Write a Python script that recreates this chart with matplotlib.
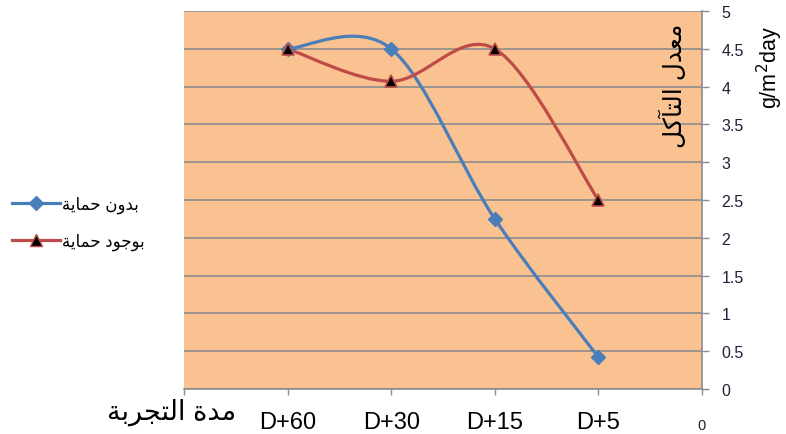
import numpy as np
import matplotlib.pyplot as plt
from matplotlib.path import Path
from matplotlib.patches import PathPatch
from matplotlib.lines import Line2D

plt.rcParams['font.family'] = ['Liberation Sans', 'DejaVu Sans']

# Arabic strings in visual order (presentation forms, right-to-left already applied)
no_protect = '\uFE94\uFEF3\uFE8E\uFEE4\uFEA3 \uFEE5\uFEED\uFEAA\uFE91'        # بدون حماية
with_protect = '\uFE94\uFEF3\uFE8E\uFEE4\uFEA3 \uFEA9\uFEEE\uFE9F\uFEEE\uFE91'  # بوجود حماية
x_title = '\uFE94\uFE91\uFEAE\uFEA0\uFE98\uFEDF\uFE8D \uFE93\uFEAA\uFEE3'      # مدة التجربة
y_title = '\uFEDE\uFEDB\uFE82\uFE98\uFEDF\uFE8D \uFEDD\uFEAA\uFECC\uFEE3'      # معدل التآكل

periods = ['D+60', 'D+30', 'D+15', 'D+5']
x_pos = [1, 2, 3, 4]
rate_without = [4.5, 4.5, 2.25, 0.42]
rate_with = [4.5, 4.07, 4.5, 2.5]

blue = '#4A7EBB'
red = '#BE4B48'


def smooth_path(x, y):
    # excel style smoothed line: cubic bezier with catmull-rom tangents
    pts = np.column_stack([x, y]).astype(float)
    n = len(pts)
    verts = [pts[0]]
    codes = [Path.MOVETO]
    for i in range(n - 1):
        p0 = pts[i - 1] if i > 0 else pts[i]
        p1 = pts[i]
        p2 = pts[i + 1]
        p3 = pts[i + 2] if i + 2 < n else pts[i + 1]
        c1 = p1 + (p2 - p0) / 6.
        c2 = p2 - (p3 - p1) / 6.
        verts += [c1, c2, p2]
        codes += [Path.CURVE4] * 3
    return Path(verts, codes)


fig = plt.figure(figsize=(7.86, 4.35), dpi=100)
ax = fig.add_axes([184 / 786, 1 - 390 / 435, 518 / 786, 378 / 435])
ax.set_facecolor('#FAC291')
ax.set_xlim(0, 5)
ax.set_ylim(0, 5)

ax.set_yticks(np.arange(0, 5.01, 0.5))
ax.set_yticklabels(['0', '0.5', '1', '1.5', '2', '2.5', '3', '3.5', '4', '4.5', '5'])
ax.yaxis.tick_right()
ax.grid(axis='y', color='#8C8C8C', linewidth=1.2)
ax.set_axisbelow(True)
ax.tick_params(axis='y', direction='out', length=5, width=1, color='#8C8C8C',
               labelsize=11.5, labelcolor='#202038', pad=9)

ax.set_xticks([0, 1, 2, 3, 4, 5])
ax.set_xticklabels([''] + periods + [''])
ax.tick_params(axis='x', direction='out', length=4, width=1, color='#8C8C8C',
               labelsize=17, pad=12)
ax.text(5, -0.47, '0', ha='center', va='center', fontsize=10.5, color='#202038')

for side in ['left', 'top']:
    ax.spines[side].set_visible(False)
ax.spines['bottom'].set_color('#8C8C8C')
ax.spines['right'].set_color('#8C8C8C')
ax.spines['bottom'].set_linewidth(1.2)
ax.spines['right'].set_linewidth(1.2)

ax.add_patch(PathPatch(smooth_path(x_pos, rate_without), fill=False,
                       edgecolor=blue, linewidth=2.3, capstyle='round', zorder=3))
ax.add_patch(PathPatch(smooth_path(x_pos, rate_with), fill=False,
                       edgecolor=red, linewidth=2.3, capstyle='round', zorder=3))
ax.plot(x_pos, rate_without, linestyle='none', marker='D', markersize=7,
        color=blue, zorder=4, clip_on=False)
ax.plot(x_pos, rate_with, linestyle='none', marker='^', markersize=9,
        markerfacecolor='black', markeredgecolor=red, markeredgewidth=1.2,
        zorder=5, clip_on=False)

fig.text(236 / 786, 1 - 412 / 435, x_title, ha='right', va='center', fontsize=19.5)
fig.text(673 / 786, 1 - 86 / 435, y_title, ha='center', va='center',
         rotation=90, fontsize=18)
fig.text(770 / 786, 1 - 68 / 435, 'g/m$^2$day', ha='center', va='center',
         rotation=90, fontsize=15.5)

handles = [
    Line2D([], [], color=blue, linewidth=2.3, marker='D', markersize=7),
    Line2D([], [], color=red, linewidth=2.3, marker='^', markersize=9,
           markerfacecolor='black', markeredgecolor=red),
]
fig.legend(handles, [no_protect, with_protect], loc='center left',
           bbox_to_anchor=(0.0, 1 - 224 / 435), frameon=False, fontsize=12,
           handlelength=2.9, handletextpad=0.1, labelspacing=1.2, numpoints=1,
           borderaxespad=0.3)

fig.savefig('out.png', dpi=100)
